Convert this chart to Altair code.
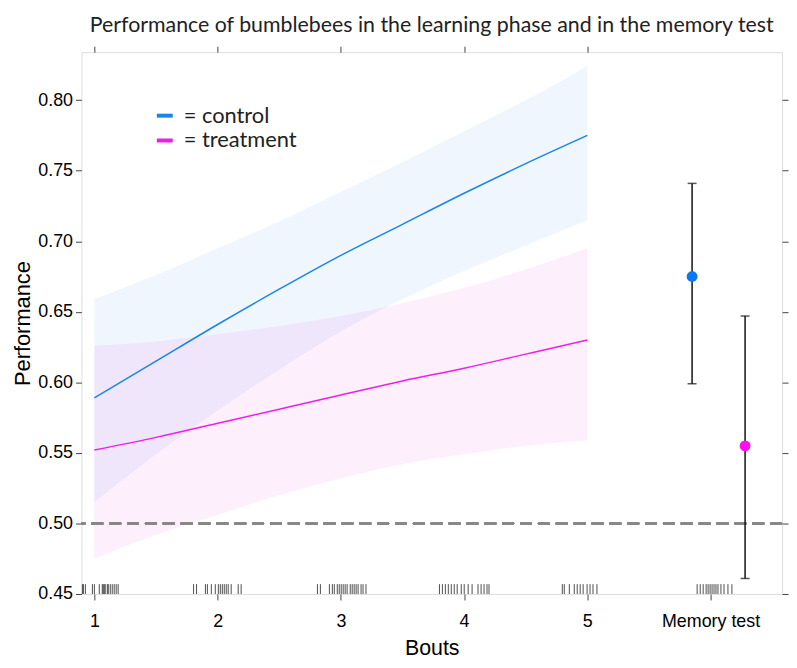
import json
import altair as alt
import pandas as pd

# ---------------- data ----------------
groups = ["control", "treatment"]
bouts = [1, 1.5, 2, 2.5, 3, 3.5, 4, 4.5, 5]
control_fit = [0.589, 0.615, 0.641, 0.666, 0.690, 0.712, 0.734, 0.755, 0.775]
control_hi = [0.659, 0.676, 0.695, 0.714, 0.735, 0.756, 0.778, 0.800, 0.824]
control_lo = [0.515, 0.549, 0.580, 0.609, 0.636, 0.659, 0.679, 0.697, 0.715]
treat_fit = [0.552, 0.561, 0.571, 0.581, 0.591, 0.601, 0.610, 0.620, 0.630]
treat_hi = [0.626, 0.629, 0.634, 0.640, 0.647, 0.656, 0.667, 0.680, 0.695]
treat_lo = [0.475, 0.492, 0.506, 0.520, 0.532, 0.542, 0.549, 0.555, 0.559]

mem_x = [5.85, 6.28]
mem_fit = [0.675, 0.555]
mem_lo = [0.599, 0.461]
mem_hi = [0.741, 0.647]

rug_x = [
    0.903, 0.911, 0.927, 0.984, 1.000, 1.040, 1.064, 1.072, 1.080, 1.088,
    1.105, 1.113, 1.129, 1.145, 1.161, 1.177, 1.193,
    1.805, 1.829, 1.901, 1.917, 1.949, 1.981, 2.006, 2.022, 2.038, 2.054,
    2.070, 2.086, 2.110, 2.167, 2.191,
    2.810, 2.834, 2.907, 2.931, 2.947, 2.971, 2.987, 3.003, 3.019, 3.035,
    3.051, 3.076, 3.092, 3.108, 3.124, 3.140, 3.164, 3.180, 3.204,
    3.800, 3.824, 3.848, 3.872, 3.896, 3.920, 3.944, 3.977, 4.001, 4.033,
    4.065, 4.113, 4.138, 4.162, 4.186, 4.202,
    4.797, 4.813, 4.854, 4.894, 4.918, 4.942, 4.966, 4.998, 5.022, 5.046, 5.078,
    5.891, 5.916, 5.940, 5.964, 5.980, 5.996, 6.012, 6.028, 6.044, 6.060,
    6.084, 6.109, 6.141, 6.173,
]

chance_level = 0.5
x_ticks = [1, 2, 3, 4, 5, 6]
x_labels = ["1", "2", "3", "4", "5", "Memory test"]
top_ticks = [1, 2, 3, 4, 5]
y_ticks = [0.45, 0.50, 0.55, 0.60, 0.65, 0.70, 0.75, 0.80]

title_text = "Performance of bumblebees in the learning phase and in the memory test"

# ---------------- tables ----------------
curves = pd.DataFrame({
    "bout": bouts * 2,
    "fit": control_fit + treat_fit,
    "lo": control_lo + treat_lo,
    "hi": control_hi + treat_hi,
    "group": [groups[0]] * len(bouts) + [groups[1]] * len(bouts),
})
mem = pd.DataFrame({"x": mem_x, "fit": mem_fit, "lo": mem_lo, "hi": mem_hi, "group": groups})
rug = pd.DataFrame({"rx": rug_x})

FONT = "Lato"
INK = "#222222"
line_colors = ["#1a84e8", "#ee1ee8"]
point_colors = ["#0a78f0", "#ff10f0"]

xscale = alt.Scale(domain=[0.895, 6.58], nice=False, zero=False)
yscale = alt.Scale(domain=[0.45, 0.834], nice=False, zero=False)
cscale = alt.Scale(domain=groups, range=line_colors)

label_expr = f"{json.dumps(x_labels)}[indexof({json.dumps(x_ticks)}, datum.value)]"

bottom_axis = alt.Axis(orient="bottom", values=x_ticks, labelExpr=label_expr, title="Bouts",
                       grid=False, domain=False, tickSize=6, tickColor="#444",
                       labelFontSize=18, labelPadding=13, titleFontSize=21.5,
                       titlePadding=7, titleFontWeight="normal")
left_axis = alt.Axis(orient="left", values=y_ticks, format=".2f", title="Performance",
                     grid=False, domain=False, tickSize=6, tickColor="#444",
                     labelFontSize=18, labelPadding=3, titleFontSize=22,
                     titlePadding=3, titleFontWeight="normal")
top_axis = alt.Axis(orient="top", values=top_ticks, labels=False, title=None, grid=False,
                    domain=False, tickSize=6, tickColor="#444")
right_axis = alt.Axis(orient="right", values=y_ticks, labels=False, title=None, grid=False,
                      domain=False, tickSize=6, tickColor="#444")

base = alt.Chart(curves)

bands = base.mark_area(opacity=0.07, interpolate="monotone").encode(
    x=alt.X("bout:Q", scale=xscale, axis=None),
    y=alt.Y("lo:Q", scale=yscale, axis=None),
    y2="hi:Q",
    color=alt.Color("group:N", scale=cscale, legend=None),
)

lines = base.mark_line(strokeWidth=1.5, interpolate="monotone").encode(
    x=alt.X("bout:Q", scale=xscale, axis=bottom_axis),
    y=alt.Y("fit:Q", scale=yscale, axis=left_axis),
    color=alt.Color("group:N", scale=cscale, legend=alt.Legend(
        title=None, orient="none", legendX=73, legendY=53, padding=0,
        symbolType="stroke", symbolStrokeWidth=4, symbolSize=256,
        labelExpr="'= ' + datum.label", labelFontSize=22, labelFont=FONT,
        labelColor=INK, labelOffset=8, rowPadding=3)),
)

chance = alt.Chart(curves).mark_rule(color="#888888", strokeWidth=1.4, strokeDash=[12, 6]).encode(
    y=alt.YDatum(chance_level, type="quantitative", scale=yscale, axis=None),
)

rugs = alt.Chart(rug).mark_rule(color="#222222", strokeWidth=1, opacity=0.8).encode(
    x=alt.X("rx:Q", scale=xscale, axis=top_axis),
    y=alt.YDatum(0.45, type="quantitative", scale=yscale, axis=right_axis),
    y2=alt.Y2Datum(0.457),
)

mbase = alt.Chart(mem)
err = mbase.mark_rule(color="#111111", strokeWidth=1.5).encode(
    x=alt.X("x:Q", scale=xscale, axis=None),
    y=alt.Y("lo:Q", scale=yscale, axis=None),
    y2="hi:Q",
)
cap_lo = mbase.mark_tick(color="#111111", orient="horizontal", size=9, thickness=1.5).encode(
    x=alt.X("x:Q", scale=xscale, axis=None),
    y=alt.Y("lo:Q", scale=yscale, axis=None),
)
cap_hi = mbase.mark_tick(color="#111111", orient="horizontal", size=9, thickness=1.5).encode(
    x=alt.X("x:Q", scale=xscale, axis=None),
    y=alt.Y("hi:Q", scale=yscale, axis=None),
)
pts = mbase.mark_circle(size=120, opacity=1).encode(
    x=alt.X("x:Q", scale=xscale, axis=None),
    y=alt.Y("fit:Q", scale=yscale, axis=None),
    color=alt.Color("group:N", scale=alt.Scale(domain=groups, range=point_colors), legend=None),
)

chart = alt.layer(
    bands, chance, lines, rugs, err, cap_lo, cap_hi, pts
).resolve_axis(x="independent", y="independent").resolve_scale(color="independent").properties(
    width=706, height=546,
    padding={"left": 74, "top": 42, "right": 7, "bottom": 64},
    autosize=alt.AutoSizeParams(type="none"),
    title=alt.TitleParams(title_text, fontSize=21.5, font=FONT, fontWeight="normal",
                          color=INK, offset=9, anchor="middle"),
).configure_view(stroke="#222222", strokeWidth=2).configure_axis(
    labelFont=FONT, titleFont=FONT, labelColor=INK, titleColor=INK,
).configure(background="white")

chart.save("out.html", embed_options={"renderer": "svg", "actions": False})
